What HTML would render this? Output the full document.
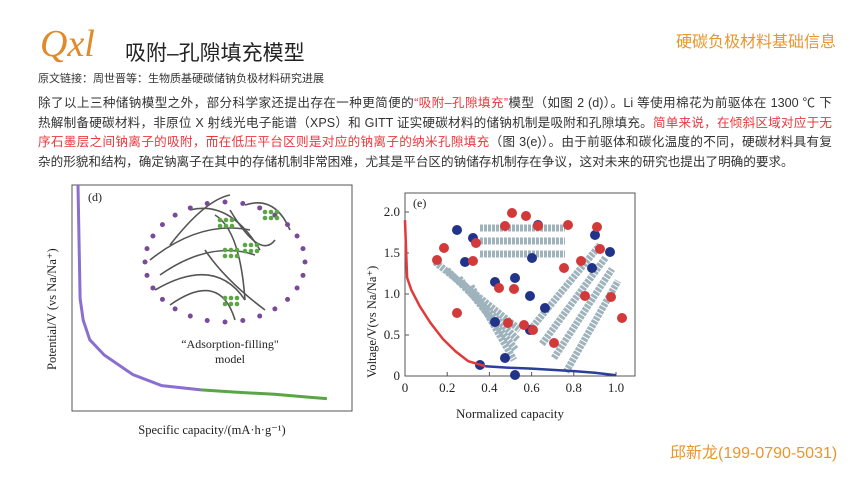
<!DOCTYPE html>
<html><head><meta charset="utf-8">
<style>
body{margin:0;width:860px;height:484px;background:#fff;overflow:hidden;position:relative;font-family:"Liberation Sans","Noto Sans CJK SC",sans-serif;}
.abs{position:absolute;white-space:nowrap;}
.p{position:absolute;left:38px;width:794px;font-size:12.6px;color:#333;line-height:19.5px;top:94px;}
.p div{white-space:nowrap;}
.j{text-align:justify;text-align-last:justify;}
.r{color:#e8383d;}
</style></head><body>
<div class="abs" style="left:40px;top:22px;font-family:'Liberation Serif',serif;font-style:italic;font-size:38px;color:#e08a2a;">Qxl</div>
<div class="abs" style="left:125px;top:37px;font-size:21px;color:#222;">吸附–孔隙填充模型</div>
<div class="abs" style="left:38px;top:70px;font-size:11px;color:#333;">原文链接：周世晋等：生物质基硬碳储钠负极材料研究进展</div>
<div class="abs" style="left:676px;top:28px;font-size:16px;color:#e8962e;">硬碳负极材料基础信息</div>
<div class="p">
<div class="j">除了以上三种储钠模型之外，部分科学家还提出存在一种更简便的<span class="r">“吸附–孔隙填充”</span>模型（如图 2 (d)）。Li 等使用棉花为前驱体在 1300 ℃ 下</div>
<div class="j">热解制备硬碳材料，非原位 X 射线光电子能谱（XPS）和 GITT 证实硬碳材料的储钠机制是吸附和孔隙填充。<span class="r">简单来说，在倾斜区域对应于无</span></div>
<div class="j"><span class="r">序石墨层之间钠离子的吸附，而在低压平台区则是对应的钠离子的纳米孔隙填充</span>（图 3(e)）。由于前驱体和碳化温度的不同，硬碳材料具有复</div>
<div>杂的形貌和结构，确定钠离子在其中的存储机制非常困难，尤其是平台区的钠储存机制存在争议，这对未来的研究也提出了明确的要求。</div>
</div>
<div class="abs" style="left:670px;top:439px;font-size:16px;color:#e8962e;">邱新龙(199-0790-5031)</div>

<svg width="860" height="484" style="position:absolute;left:0;top:0">
<g id="figd" font-family="Liberation Serif,serif">
<rect x="72" y="185" width="280" height="226" fill="none" stroke="#555" stroke-width="1"/>
<text x="88" y="201" font-size="12" fill="#222">(d)</text>
<text x="0" y="0" font-size="12.5" fill="#222" transform="translate(56,370) rotate(-90)">Potential/V (vs Na/Na⁺)</text>
<text x="212" y="434" font-size="12.5" fill="#222" text-anchor="middle">Specific capacity/(mA·h·g⁻¹)</text>
<text x="230" y="348" font-size="12" fill="#222" text-anchor="middle">“Adsorption-filling"</text>
<text x="230" y="363" font-size="12" fill="#222" text-anchor="middle">model</text>
<g id="dlayers" fill="none" stroke="#555" stroke-width="1.6"></g>
<g id="ddots"></g>
<path id="dpurple" fill="none" stroke="#8a6fd0" stroke-width="3"/>
<path id="dgreen" fill="none" stroke="#5aa545" stroke-width="3"/>
</g>
<g id="fige" font-family="Liberation Serif,serif">
<rect x="405" y="193" width="230" height="183" fill="none" stroke="#555"/>
<text x="413" y="207" font-size="12" fill="#222">(e)</text>
<g id="eill"></g>
<g id="eaxes" font-size="13" fill="#222"></g>
<text x="0" y="0" font-size="12.5" fill="#222" transform="translate(376,378) rotate(-90)">Voltage/V(vs Na/Na⁺)</text>
<text x="510" y="418" font-size="13" fill="#222" text-anchor="middle">Normalized capacity</text>
<path id="ered" fill="none" stroke="#e03a3a" stroke-width="2.5"/>
<path id="eblue" fill="none" stroke="#2a3e9a" stroke-width="2.5"/>
</g>
</svg>
<script>
// Figure (d): normalized capacity (0-1) vs normalized potential (0-1)
const dSlopeCap = [0.0, 0.008, 0.02, 0.045, 0.1, 0.21, 0.32, 0.47];
const dSlopeV   = [1.0, 0.48, 0.38, 0.29, 0.22, 0.13, 0.08, 0.06];
const dPlatCap  = [0.47, 0.6, 0.75, 0.9, 0.95];
const dPlatV    = [0.06, 0.05, 0.04, 0.025, 0.02];
// Figure (e)
const eSlopeCap = [0.0, 0.01, 0.03, 0.07, 0.12, 0.18, 0.24, 0.3, 0.38];
const eSlopeV   = [1.9, 1.2, 1.05, 0.85, 0.65, 0.45, 0.3, 0.18, 0.12];
const ePlatCap  = [0.38, 0.5, 0.6, 0.7, 0.8, 0.9, 1.0];
const ePlatV    = [0.12, 0.1, 0.09, 0.075, 0.06, 0.04, 0.01];
const eXTicks = [0, 0.2, 0.4, 0.6, 0.8, 1.0];
const eXLabels = ["0","0.2","0.4","0.6","0.8","1.0"];
const eYTicks = [0, 0.5, 1.0, 1.5, 2.0];
const eYLabels = ["0","0.5","1.0","1.5","2.0"];

const NS="http://www.w3.org/2000/svg";
const dx=c=>78+c*262, dy=v=>403-v*218;
const ex=c=>405+c*211, ey=v=>376-v*82;
function path(xs,ys,fx,fy){return xs.map((c,i)=>(i?'L':'M')+fx(c).toFixed(1)+','+fy(ys[i]).toFixed(1)).join(' ');}
const dp=document.getElementById('dpurple');dp.setAttribute('d',path(dSlopeCap,dSlopeV,dx,dy));


const dg=document.getElementById('dgreen');dg.setAttribute('d',path(dPlatCap,dPlatV,dx,dy));


const er=document.getElementById('ered');er.setAttribute('d',path(eSlopeCap,eSlopeV,ex,ey));


const eb=document.getElementById('eblue');eb.setAttribute('d',path(ePlatCap,ePlatV,ex,ey));



const ax=document.getElementById('eaxes');
eXTicks.forEach((t,i)=>{
 const l=document.createElementNS(NS,'line');l.setAttribute('x1',ex(t));l.setAttribute('x2',ex(t));l.setAttribute('y1',376);l.setAttribute('y2',372);l.setAttribute('stroke','#555');ax.appendChild(l);
 const tx=document.createElementNS(NS,'text');tx.setAttribute('x',ex(t));tx.setAttribute('y',392);tx.setAttribute('text-anchor','middle');tx.textContent=eXLabels[i];
 
 
 ax.appendChild(tx);});
eYTicks.forEach((t,i)=>{
 const l=document.createElementNS(NS,'line');l.setAttribute('x1',405);l.setAttribute('x2',409);l.setAttribute('y1',ey(t));l.setAttribute('y2',ey(t));l.setAttribute('stroke','#555');ax.appendChild(l);
 const tx=document.createElementNS(NS,'text');tx.setAttribute('x',400);tx.setAttribute('y',ey(t)+4);tx.setAttribute('text-anchor','end');tx.textContent=eYLabels[i];
 
 
 ax.appendChild(tx);});

// decorative illustration (d)
const dl=document.getElementById('dlayers');
[[150,260,200,220,250,230],[160,275,210,240,255,255],[155,290,215,255,245,300],[170,305,220,270,235,320],[190,210,230,200,260,250],[215,215,240,230,245,300],[205,250,225,280,265,310],[230,210,260,260,275,240],[245,205,275,195,290,230],[170,245,205,200,230,195]].forEach(a=>{
 const p=document.createElementNS(NS,'path');p.setAttribute('d',`M${a[0]},${a[1]} Q${a[2]},${a[3]} ${a[4]},${a[5]}`);dl.appendChild(p);});
const dd=document.getElementById('ddots');
for(let i=0;i<28;i++){const a=i/28*Math.PI*2;const c=document.createElementNS(NS,'circle');c.setAttribute('cx',225+80*Math.cos(a));c.setAttribute('cy',262+60*Math.sin(a));c.setAttribute('r',2.5);c.setAttribute('fill','#7a4a9a');dd.appendChild(c);}
[[265,212],[225,250],[245,245],[225,298],[220,220]].forEach(p=>{for(let k=0;k<6;k++){const c=document.createElementNS(NS,'circle');c.setAttribute('cx',p[0]+(k%3)*6);c.setAttribute('cy',p[1]+Math.floor(k/3)*6);c.setAttribute('r',2.3);c.setAttribute('fill','#5aa545');dd.appendChild(c);}});

// decorative illustration (e)
const ei=document.getElementById('eill');
function band(x1,y1,x2,y2){const l=document.createElementNS(NS,'line');l.setAttribute('x1',x1);l.setAttribute('y1',y1);l.setAttribute('x2',x2);l.setAttribute('y2',y2);l.setAttribute('stroke','#9fb3bd');l.setAttribute('stroke-width','7');l.setAttribute('stroke-dasharray','3 1');ei.appendChild(l);}
for(let k=0;k<3;k++)band(480,228+k*13,565,228+k*13);
for(let k=0;k<4;k++)band(435+k*12,262+k*8,520-k*2,330+k*10);
for(let k=0;k<4;k++)band(530+k*12,330+k*14,600+k*6,245+k*12);
[[457,230],[473,238],[465,262],[538,225],[532,258],[495,282],[515,278],[530,296],[495,322],[530,330],[545,308],[480,365],[505,358],[515,375],[595,235],[610,252],[592,268]].forEach(p=>{const c=document.createElementNS(NS,'circle');c.setAttribute('cx',p[0]);c.setAttribute('cy',p[1]);c.setAttribute('r',5);c.setAttribute('fill','#22338a');ei.appendChild(c);});
[[444,248],[476,243],[437,260],[473,261],[512,213],[526,216],[505,226],[538,226],[568,225],[597,227],[600,249],[581,261],[564,268],[585,296],[611,297],[499,288],[514,289],[457,313],[622,318],[524,325],[533,330],[554,343],[508,323]].forEach(p=>{const c=document.createElementNS(NS,'circle');c.setAttribute('cx',p[0]);c.setAttribute('cy',p[1]);c.setAttribute('r',5);c.setAttribute('fill','#d23a3a');ei.appendChild(c);});
</script>
</body></html>
